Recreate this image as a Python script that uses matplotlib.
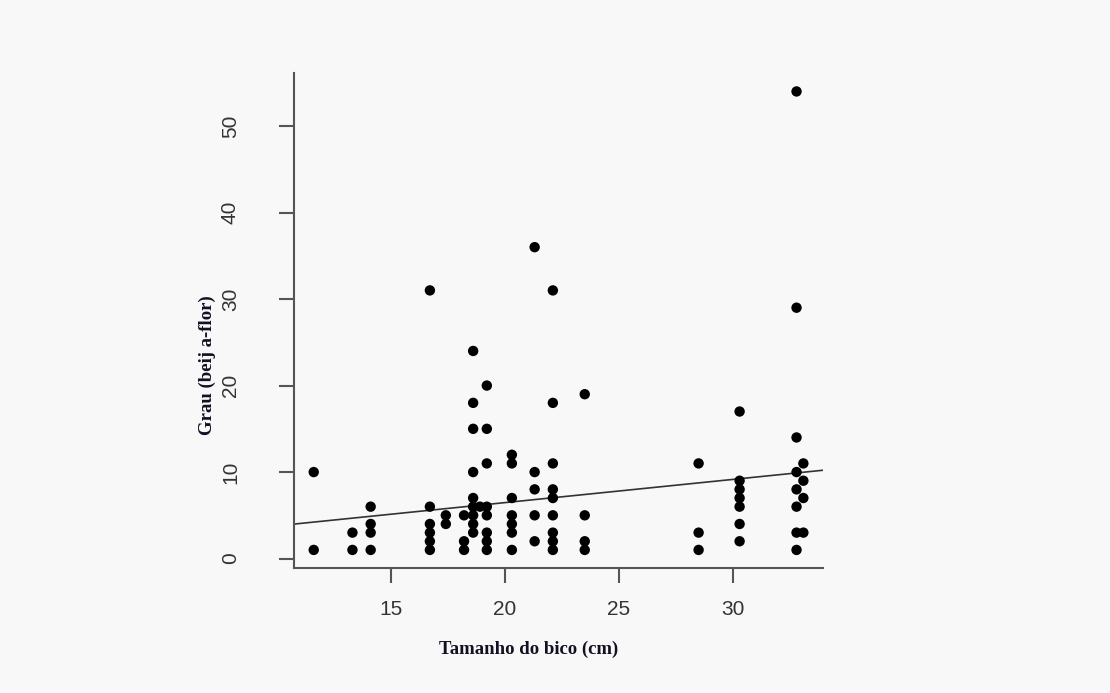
import numpy as np
import matplotlib
matplotlib.use("Agg")
import matplotlib.pyplot as plt

# Beak size columns (cm) and the degree values observed at each
beak_sizes = [11.6, 13.3, 14.1, 16.7, 17.4, 18.2, 18.6, 18.9, 19.2, 20.3,
              21.3, 22.1, 23.5, 28.5, 30.3, 32.8, 33.1]
degree_values = [
    [10, 1],
    [3, 1],
    [6, 4, 3, 1],
    [31, 6, 4, 3, 2, 1],
    [5, 4],
    [5, 2, 1],
    [24, 18, 15, 10, 7, 6, 5, 4, 3],
    [6],
    [20, 15, 11, 6, 5, 3, 2, 1],
    [12, 11, 7, 5, 4, 3, 1],
    [36, 10, 8, 5, 2],
    [31, 18, 11, 8, 7, 5, 3, 2, 1],
    [19, 5, 2, 1],
    [11, 3, 1],
    [17, 9, 8, 7, 6, 4, 2],
    [54, 29, 14, 10, 8, 6, 3, 1],
    [11, 9, 7, 3],
]
# Regression line
line_intercept = 1.11
line_slope = 0.268

x_ticks = [15, 20, 25, 30]
y_ticks = [0, 10, 20, 30, 40, 50]
x_label = "Tamanho do bico (cm)"
y_label = "Grau (beij a-flor)"

x = np.concatenate([[bs] * len(v) for bs, v in zip(beak_sizes, degree_values)])
y = np.concatenate([np.array(v, dtype=float) for v in degree_values])

bg = "#f8f8f8"
fig = plt.figure(figsize=(11.10, 6.93), dpi=100, facecolor=bg)
ax = fig.add_axes([0.265, 0.180, 0.4764, 0.7145], facecolor=bg)

ax.scatter(x, y, s=56, color="black", edgecolors="none", zorder=3)

# R-style axis limits (4% extension)
xr = x.max() - x.min()
yr = y.max() - y.min()
xlim = (x.min() - 0.04 * xr, x.max() + 0.04 * xr)
ylim = (y.min() - 0.04 * yr, y.max() + 0.04 * yr)
ax.set_xlim(*xlim)
ax.set_ylim(*ylim)

xx = np.array(xlim)
ax.plot(xx, line_intercept + line_slope * xx, color="#333333", lw=1.2, zorder=2)

for s in ["top", "right"]:
    ax.spines[s].set_visible(False)
for s in ["left", "bottom"]:
    ax.spines[s].set_color("#555555")
    ax.spines[s].set_linewidth(1.5)

ax.set_xticks(x_ticks)
ax.set_yticks(y_ticks)
ax.tick_params(axis="both", direction="out", length=11, width=1.5,
               color="#555555", labelcolor="#333333", labelsize=15)
ax.tick_params(axis="x", pad=12)
ax.tick_params(axis="y", pad=28)
for lab in ax.get_xticklabels() + ax.get_yticklabels():
    lab.set_fontfamily("Liberation Sans")
for lab in ax.get_yticklabels():
    lab.set_rotation(90)
    lab.set_va("center")

ax.set_xlabel(x_label, fontfamily="Liberation Serif", fontweight="bold",
              fontsize=13.5, color="#111122")
ax.set_ylabel(y_label, fontfamily="Liberation Serif", fontweight="bold",
              fontsize=13.5, color="#111122")
ax.xaxis.set_label_coords(0.444, -0.147)
ax.yaxis.set_label_coords(-0.147, 0.41)

fig.savefig("out.png", dpi=100, facecolor=bg)
